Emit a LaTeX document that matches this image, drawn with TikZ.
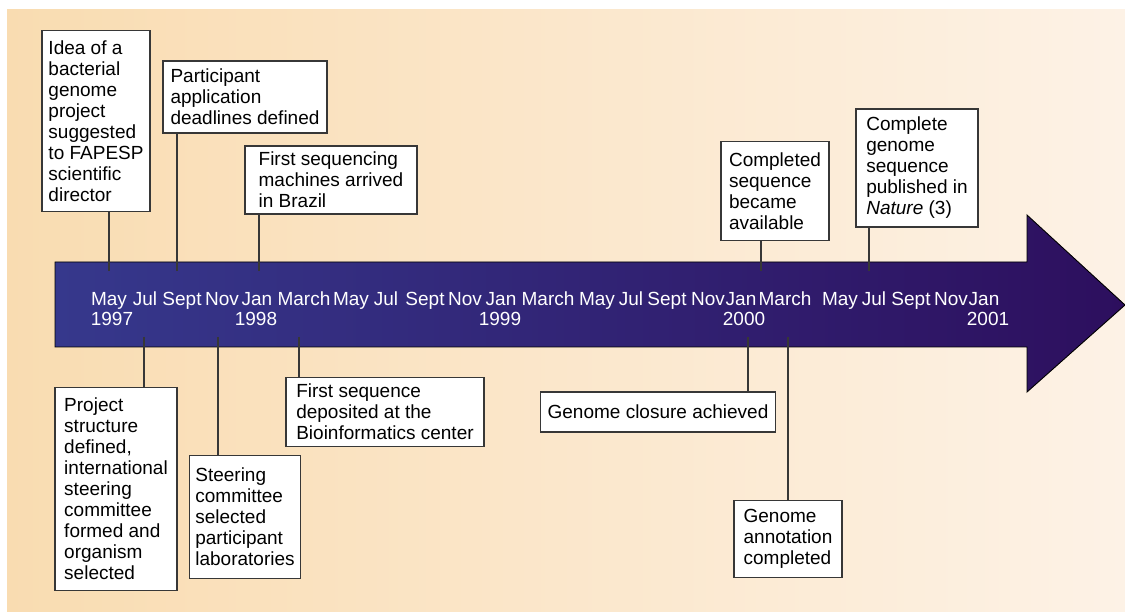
\documentclass[tikz,border=0pt]{standalone}
\usepackage{fontspec}
\setmainfont{Liberation Sans}
\usepackage{xcolor}
\usepackage{tikz}

\definecolor{bgleft}{RGB}{249,220,177}
\definecolor{bgright}{RGB}{253,242,230}
\definecolor{arrowleft}{RGB}{54,56,140}
\definecolor{arrowmid}{RGB}{62,22,122}
\definecolor{arrowright}{RGB}{45,15,94}
\definecolor{linegray}{RGB}{55,55,55}

\begin{document}
\begin{tikzpicture}[x=1pt, y=-1pt,
    event/.style={draw=linegray, line width=1.2pt, fill=white, align=left,
        inner xsep=6pt, inner ysep=4pt, font=\fontsize{19}{21}\selectfont},
    month/.style={text=white, anchor=base, inner sep=0pt, font=\fontsize{19}{21}\selectfont},
    tick/.style={draw=linegray, line width=1.2pt}]

    \useasboundingbox (0,0) rectangle (1125,612);

    % Background
    \fill[left color=bgleft, right color=bgright] (7,10) rectangle (1125,612);

    % Timeline arrow
    \draw[line width=0.9pt, left color=arrowleft, middle color=arrowmid, right color=arrowright]
        (55,262) -- (1027,262) -- (1027,215) -- (1125,305) -- (1027,392) -- (1027,347) -- (55,347) -- cycle;

    % Months and years
    \foreach \x/\m [count=\i] in {109/May, 145/Jul, 182/Sept, 222/Nov, 257/Jan, 304/March,
        351/May, 386/Jul, 425/Sept, 465/Nov, 501/Jan, 548/March,
        597/May, 631/Jul, 667/Sept, 708/Nov, 741/Jan, 785/March,
        840/May, 874/Jul, 911/Sept, 951/Nov, 984/Jan}
        \node[month] (m\i) at (\x,306) {\m};
    \foreach \x/\yr in {112/1997, 256/1998, 500/1999, 744/2000, 988/2001}
        \node[month] (y\yr) at (\x,326) {\yr};

    % Events above the arrow
    \node[event, minimum width=108pt, minimum height=181pt] (idea) at (96,121)
        {Idea of a\\bacterial\\genome\\project\\suggested\\to FAPESP\\scientific\\director};
    \node[event, minimum width=164pt, minimum height=72pt] (deadlines) at (245,97)
        {Participant\\application\\deadlines defined};
    \node[event, minimum width=172pt, minimum height=68pt] (machines) at (331,180)
        {First sequencing\\machines arrived\\in Brazil};
    \node[event, minimum width=108pt, minimum height=99pt] (available) at (775,191)
        {Completed\\sequence\\became\\available};
    \node[event, minimum width=122pt, minimum height=118pt] (published) at (917,168)
        {Complete\\genome\\sequence\\published in\\\textit{Nature} (3)};

    % Events below the arrow
    \node[event, minimum width=122pt, minimum height=203pt] (structure) at (116,489)
        {Project\\structure\\defined,\\international\\steering\\committee\\formed and\\organism\\selected};
    \node[event, minimum width=108pt, minimum height=123pt] (steering) at (245,517)
        {Steering\\committee\\selected\\participant\\laboratories};
    \node[event, minimum width=198pt, minimum height=69pt] (deposited) at (385,412)
        {First sequence\\deposited at the\\Bioinformatics center};
    \node[event, minimum width=235pt, minimum height=40pt] (closure) at (658,412)
        {Genome closure achieved};
    \node[event, minimum width=108pt, minimum height=77pt] (annotation) at (788,539)
        {Genome\\annotation\\completed};

    % Connectors
    \foreach \ev/\ex/\ey/\an in {idea/109/271/south, deadlines/177/271/south, machines/259/271/south,
        available/761/271/south, published/869/271/south,
        structure/144/337/north, steering/218/337/north, deposited/299/337/north,
        closure/748/337/north, annotation/788/337/north}
    {
        \coordinate (\ev-t) at (\ex,\ey);
        \draw[tick] (\ev-t) -- (\ev-t |- \ev.\an);
    }
\end{tikzpicture}
\end{document}
